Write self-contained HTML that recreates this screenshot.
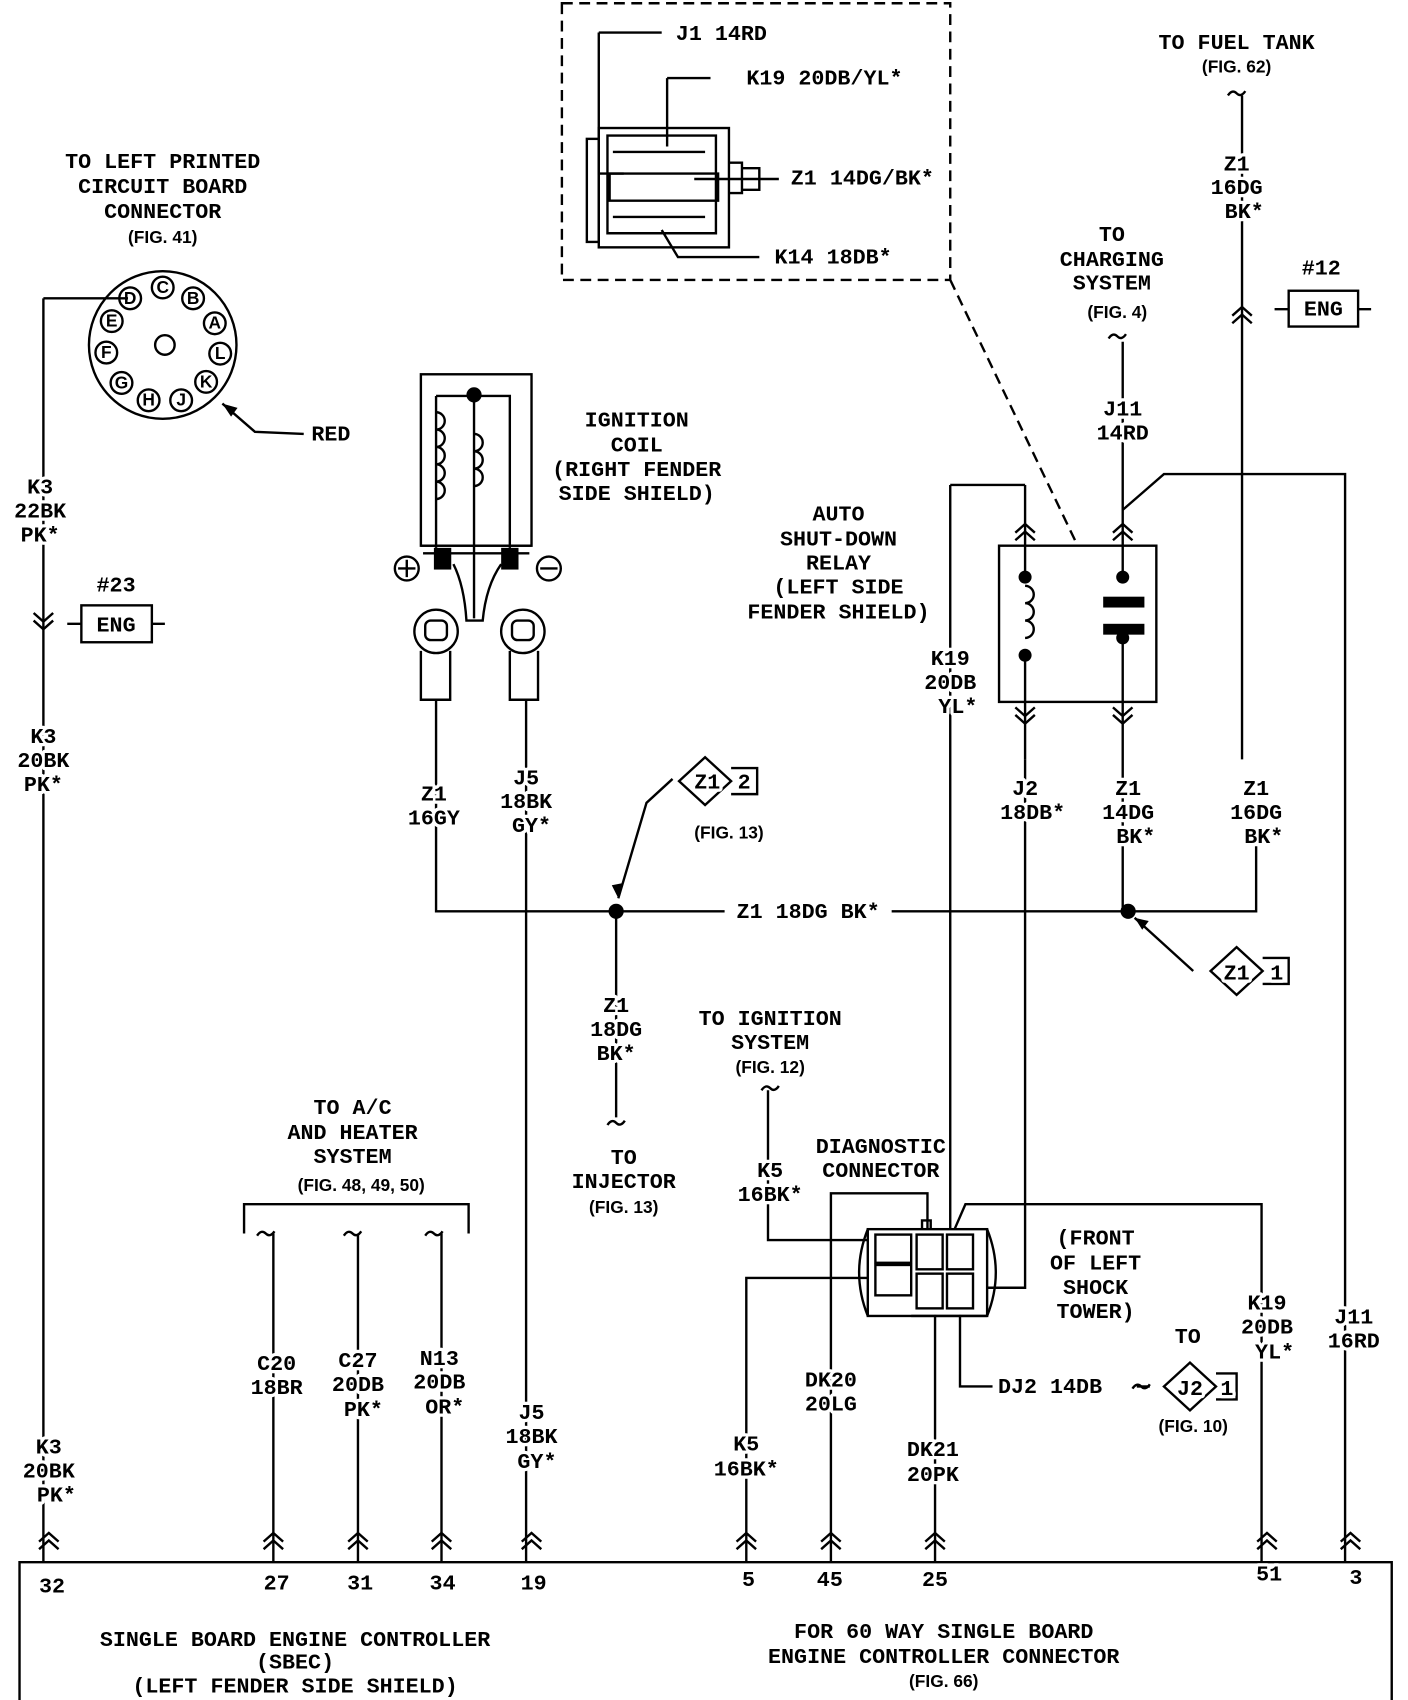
<!DOCTYPE html>
<html><head><meta charset="utf-8"><style>
html,body{margin:0;padding:0;background:#fff;}
svg{display:block}
.t{font-family:"Liberation Mono",monospace;font-size:20px;font-weight:bold;fill:#000;text-anchor:middle;paint-order:stroke;stroke:#fff;stroke-width:6px;stroke-linejoin:round}
.f{font-family:"Liberation Sans",sans-serif;font-size:16px;font-weight:bold;fill:#000;text-anchor:middle}
.w{fill:none;stroke:#000;stroke-width:2.2}
</style></head><body>
<svg width="1408" height="1700" viewBox="0 0 1298 1567" preserveAspectRatio="none" xmlns="http://www.w3.org/2000/svg">
<defs>
<g id="cu"><path d="M-9,6 L0,-2 L9,6 M-9,13 L0,5 L9,13" fill="none" stroke="#000" stroke-width="2.2"/></g>
<g id="cd"><path d="M-9,-6 L0,2 L9,-6 M-9,-13 L0,-5 L9,-13" fill="none" stroke="#000" stroke-width="2.2"/></g>
<g id="br"><path d="M-8,2 Q-4,-4 0,0 Q4,4 8,-2" fill="none" stroke="#000" stroke-width="2.2"/></g>
</defs>
<g class="w">
<path d="M18,1567 L18,1440 L1283,1440 L1283,1567"/>
<path d="M40,275 L40,1440 M252,1137 L252,1440 M330,1137 L330,1440 M407,1137 L407,1440 M485,645 L485,1440"/>
<path d="M688,1440 L688,1178 L800,1178"/>
<path d="M766,1440 L766,1100 L855,1100 L855,1133"/>
<path d="M862,1212 L862,1440"/>
<path d="M1163,1440 L1163,1110 L890,1110 L880,1133"/>
<path d="M1240,1440 L1240,437 L1073,437 L1035,470"/>
<path d="M708,1005 L708,1143 L800,1143"/>
<path d="M885,1212 L885,1278 L915,1278"/>
<path d="M40,275 L118,275"/>
<circle cx="150" cy="318" r="68"/>
<path d="M205,372 L235,398 L280,400"/>
<rect x="388" y="345" width="102" height="158"/>
<path d="M402,365 L470,365 L470,505 M402,365 L402,505 M437,365 L437,570"/>
<path d="M402,380 a8,8 0 0 1 0,16 a8,8 0 0 1 0,16 a8,8 0 0 1 0,16 a8,8 0 0 1 0,16 a8,8 0 0 1 0,16" />
<path d="M437,400 a8,8 0 0 1 0,16 a8,8 0 0 1 0,16 a8,8 0 0 1 0,16"/>
<path d="M388,503 L490,503 M390,510 L488,510"/>
<path d="M418,520 Q428,540 430,572 L445,572 Q448,540 462,520"/>
<circle cx="375" cy="524" r="11"/><path d="M367,524 L383,524 M375,516 L375,532"/>
<circle cx="506" cy="524" r="11"/><path d="M498,524 L514,524"/>
<circle cx="402" cy="582" r="20"/><rect x="392" y="572" width="20" height="18" rx="5"/>
<circle cx="482" cy="582" r="20"/><rect x="472" y="572" width="20" height="18" rx="5"/>
<path d="M388,600 L388,645 L415,645 L415,600 M470,600 L470,645 L496,645 L496,600"/>
<path d="M402,645 L402,840 L1040,840 M568,840 L568,1030"/>
<path d="M620,718 L596,740 L570,828"/>
<path d="M1040,840 L1158,840 L1158,780 M1145,700 L1145,88"/>
<path d="M1100,895 L1046,846"/>
<rect x="921" y="503" width="145" height="144"/>
<path d="M945,447 L945,530 M945,605 L945,700 M1035,315 L1035,530 M1035,590 L1035,840"/>
<path d="M945,540 a8,8 0 0 1 0,16 a8,8 0 0 1 0,16 a8,8 0 0 1 0,16"/>
<path d="M876,447 L945,447 M876,447 L876,1133 M945,700 L945,1187 L910,1187"/>
<rect x="800" y="1133" width="110" height="80"/>
<path d="M800,1133 Q784,1173 800,1213 M910,1133 Q926,1173 910,1213"/>
<rect x="807" y="1138" width="33" height="26"/><rect x="807" y="1166" width="33" height="28"/>
<rect x="845" y="1138" width="24" height="32"/><rect x="873" y="1138" width="24" height="32"/>
<rect x="845" y="1174" width="24" height="32"/><rect x="873" y="1174" width="24" height="32"/>
<path d="M840,1213 L910,1213 M850,1133 L850,1125 L858,1125 L858,1133"/>
<path d="M225,1137 L225,1110 L432,1110 L432,1137"/>
<path d="M518,3 L876,3 L876,258 L518,258 Z M876,258 L992,500" stroke-dasharray="10,6"/>
<rect x="552" y="118" width="120" height="110"/>
<rect x="541" y="128" width="11" height="95"/>
<path d="M560,125 L660,125 L660,215 L560,215 Z M565,140 L650,140 M565,200 L650,200 M562,160 L662,160 L662,185 L562,185 Z"/>
<path d="M672,150 L684,150 L684,178 L672,178 M684,155 L700,155 L700,175 L684,175"/>
<path d="M552,30 L552,160 L575,160 M552,30 L610,30 M615,72 L615,135 M615,72 L655,72 M640,165 L718,165 M610,212 L625,237 L700,237"/>
<rect x="75" y="558" width="65" height="34"/><path d="M62,575 L75,575 M140,575 L152,575"/>
<rect x="1188" y="268" width="64" height="33"/><path d="M1175,285 L1188,285 M1252,285 L1264,285"/>
<path d="M626,720 L650,698 L674,720 L650,742 Z M674,708 L698,708 L698,732 L674,732"/>
<path d="M1116,895 L1140,873 L1164,895 L1140,917 Z M1164,883 L1188,883 L1188,907 L1164,907"/>
<path d="M1073,1278 L1097,1256 L1121,1278 L1097,1300 Z M1121,1266 L1140,1266 L1140,1290 L1121,1290"/>
<path d="M1048,1278 L1060,1278"/>
</g>
<rect x="668" y="828" width="154" height="24" fill="#fff"/>
<g fill="#000">
<circle cx="437" cy="364" r="7"/><circle cx="568" cy="840" r="7"/><circle cx="1040" cy="840" r="7"/>
<rect x="400" y="505" width="16" height="20"/><rect x="462" y="505" width="16" height="20"/>
<circle cx="945" cy="532" r="6"/><circle cx="945" cy="604" r="6"/>
<circle cx="1035" cy="532" r="6"/><circle cx="1035" cy="588" r="6"/>
<rect x="1017" y="550" width="38" height="10"/><rect x="1017" y="575" width="38" height="10"/>
<path d="M205,372 l14,4 l-6,8 z M570,828 l-6,-12 l10,-2 z M1046,846 l13,3 l-6,8 z"/>
</g>
<g class="w" stroke-width="1.8">
<circle cx="120" cy="275" r="10"/><circle cx="150" cy="265" r="10"/><circle cx="178" cy="275" r="10"/>
<circle cx="103" cy="296" r="10"/><circle cx="198" cy="298" r="10"/><circle cx="98" cy="325" r="10"/>
<circle cx="203" cy="326" r="10"/><circle cx="112" cy="353" r="10"/><circle cx="190" cy="352" r="10"/>
<circle cx="137" cy="369" r="10"/><circle cx="167" cy="369" r="10"/><circle cx="152" cy="318" r="9"/>
</g>
<g class="f" font-size="14">
<text x="120" y="280">D</text><text x="150" y="270">C</text><text x="178" y="280">B</text>
<text x="103" y="301">E</text><text x="198" y="303">A</text><text x="98" y="330">F</text>
<text x="203" y="331">L</text><text x="112" y="358">G</text><text x="190" y="357">K</text>
<text x="137" y="374">H</text><text x="167" y="374">J</text>
</g>
<use href="#cu" x="45" y="1415"/><use href="#cu" x="252" y="1415"/><use href="#cu" x="330" y="1415"/>
<use href="#cu" x="407" y="1415"/><use href="#cu" x="490" y="1415"/><use href="#cu" x="688" y="1415"/>
<use href="#cu" x="766" y="1415"/><use href="#cu" x="862" y="1415"/><use href="#cu" x="1168" y="1415"/>
<use href="#cu" x="1245" y="1415"/>
<use href="#cd" x="40" y="578"/>
<use href="#cu" x="945" y="485"/><use href="#cu" x="1035" y="485"/>
<use href="#cd" x="945" y="665"/><use href="#cd" x="1035" y="665"/>
<use href="#cu" x="1145" y="285"/>
<use href="#br" x="1140" y="86"/><use href="#br" x="1030" y="310"/><use href="#br" x="568" y="1035"/>
<use href="#br" x="710" y="1003"/><use href="#br" x="245" y="1137"/><use href="#br" x="325" y="1137"/>
<use href="#br" x="400" y="1137"/><use href="#br" x="1052" y="1278"/>
<g class="t">
<text x="150" y="155">TO LEFT PRINTED</text><text x="150" y="178">CIRCUIT BOARD</text><text x="150" y="201">CONNECTOR</text>
<text x="305" y="406">RED</text>
<text x="37" y="455">K3</text><text x="37" y="477">22BK</text><text x="37" y="499">PK*</text>
<text x="107" y="545">#23</text><text x="107" y="582">ENG</text>
<text x="40" y="685">K3</text><text x="40" y="707">20BK</text><text x="40" y="729">PK*</text>
<text x="45" y="1340">K3</text><text x="45" y="1362">20BK</text><text x="52" y="1384">PK*</text>
<text x="587" y="393">IGNITION</text><text x="587" y="416">COIL</text><text x="587" y="439">(RIGHT FENDER</text><text x="587" y="461">SIDE SHIELD)</text>
<text x="400" y="738">Z1</text><text x="400" y="760">16GY</text>
<text x="485" y="723">J5</text><text x="485" y="745">18BK</text><text x="490" y="767">GY*</text>
<text x="652" y="727">Z1</text><text x="686" y="727">2</text>
<text x="745" y="846">Z1 18DG BK*</text>
<text x="568" y="933">Z1</text><text x="568" y="955">18DG</text><text x="568" y="977">BK*</text>
<text x="575" y="1073">TO</text><text x="575" y="1095">INJECTOR</text>
<text x="710" y="945">TO IGNITION</text><text x="710" y="967">SYSTEM</text>
<text x="710" y="1085">K5</text><text x="710" y="1107">16BK*</text>
<text x="812" y="1063">DIAGNOSTIC</text><text x="812" y="1085">CONNECTOR</text>
<text x="1010" y="1147">(FRONT</text><text x="1010" y="1170">OF LEFT</text><text x="1010" y="1193">SHOCK</text><text x="1010" y="1215">TOWER)</text>
<text x="325" y="1027">TO A/C</text><text x="325" y="1050">AND HEATER</text><text x="325" y="1072">SYSTEM</text>
<text x="255" y="1263">C20</text><text x="255" y="1285">18BR</text>
<text x="330" y="1260">C27</text><text x="330" y="1282">20DB</text><text x="335" y="1305">PK*</text>
<text x="405" y="1258">N13</text><text x="405" y="1280">20DB</text><text x="410" y="1303">OR*</text>
<text x="490" y="1308">J5</text><text x="490" y="1330">18BK</text><text x="495" y="1353">GY*</text>
<text x="688" y="1337">K5</text><text x="688" y="1360">16BK*</text>
<text x="766" y="1278">DK20</text><text x="766" y="1300">20LG</text>
<text x="860" y="1342">DK21</text><text x="860" y="1365">20PK</text>
<text x="968" y="1284">DJ2 14DB</text>
<text x="1095" y="1238">TO</text><text x="1097" y="1286">J2</text><text x="1131" y="1286">1</text>
<text x="1168" y="1207">K19</text><text x="1168" y="1229">20DB</text><text x="1175" y="1252">YL*</text>
<text x="1248" y="1220">J11</text><text x="1248" y="1242">16RD</text>
<text x="773" y="480">AUTO</text><text x="773" y="503">SHUT-DOWN</text><text x="773" y="525">RELAY</text><text x="773" y="547">(LEFT SIDE</text><text x="773" y="570">FENDER SHIELD)</text>
<text x="876" y="613">K19</text><text x="876" y="635">20DB</text><text x="883" y="657">YL*</text>
<text x="945" y="733">J2</text><text x="952" y="755">18DB*</text>
<text x="1040" y="733">Z1</text><text x="1040" y="755">14DG</text><text x="1047" y="777">BK*</text>
<text x="1158" y="733">Z1</text><text x="1158" y="755">16DG</text><text x="1165" y="777">BK*</text>
<text x="1140" y="903">Z1</text><text x="1177" y="903">1</text>
<text x="1140" y="45">TO FUEL TANK</text>
<text x="1140" y="157">Z1</text><text x="1140" y="179">16DG</text><text x="1147" y="201">BK*</text>
<text x="1218" y="253">#12</text><text x="1220" y="291">ENG</text>
<text x="1025" y="222">TO</text><text x="1025" y="245">CHARGING</text><text x="1025" y="267">SYSTEM</text>
<text x="1035" y="383">J11</text><text x="1035" y="405">14RD</text>
<text x="665" y="37">J1 14RD</text><text x="760" y="78">K19 20DB/YL*</text>
<text x="795" y="170">Z1 14DG/BK*</text><text x="768" y="243">K14 18DB*</text>
<text x="48" y="1468">32</text><text x="255" y="1465">27</text><text x="332" y="1465">31</text>
<text x="408" y="1465">34</text><text x="492" y="1465">19</text><text x="690" y="1462">5</text>
<text x="765" y="1462">45</text><text x="862" y="1462">25</text><text x="1170" y="1457">51</text>
<text x="1250" y="1460">3</text>
<text x="272" y="1517">SINGLE BOARD ENGINE CONTROLLER</text><text x="272" y="1538">(SBEC)</text><text x="272" y="1560">(LEFT FENDER SIDE SHIELD)</text>
<text x="870" y="1510">FOR 60 WAY SINGLE BOARD</text><text x="870" y="1533">ENGINE CONTROLLER CONNECTOR</text>
</g>
<g class="f">
<text x="150" y="224">(FIG. 41)</text><text x="672" y="773">(FIG. 13)</text><text x="575" y="1118">(FIG. 13)</text>
<text x="710" y="989">(FIG. 12)</text><text x="333" y="1098">(FIG. 48, 49, 50)</text>
<text x="1100" y="1320">(FIG. 10)</text><text x="870" y="1555">(FIG. 66)</text>
<text x="1140" y="67">(FIG. 62)</text><text x="1030" y="293">(FIG. 4)</text>
</g>
</svg>
</body></html>
